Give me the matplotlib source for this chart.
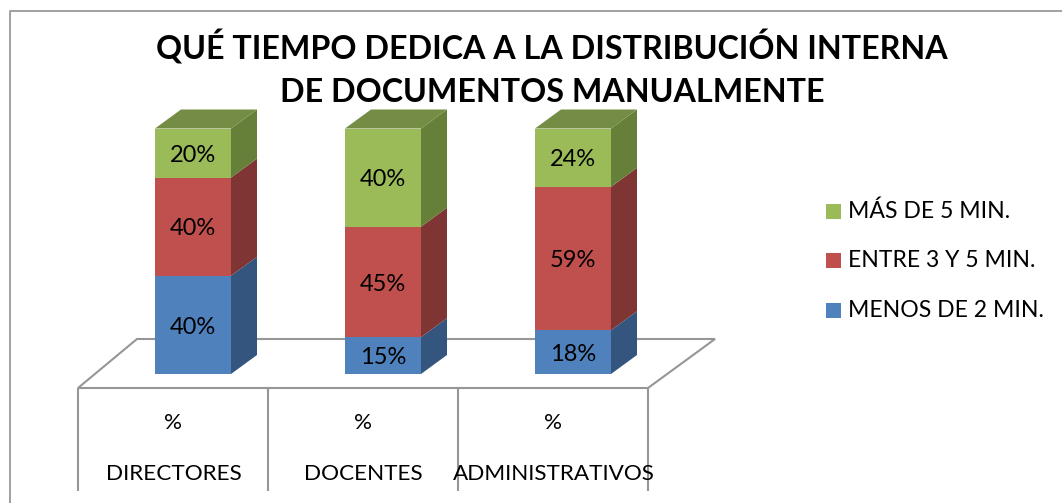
import matplotlib
matplotlib.use("Agg")
import matplotlib.pyplot as plt
from matplotlib.patches import Polygon, Rectangle

categories = ["DIRECTORES", "DOCENTES", "ADMINISTRATIVOS"]
sub_label = "%"
series_names = ["MENOS DE 2 MIN.", "ENTRE 3 Y 5 MIN.", "MÁS DE 5 MIN."]
menos_2 = [40, 15, 18]
entre_3_5 = [40, 45, 59]
mas_5 = [20, 40, 24]
title = "QUÉ TIEMPO DEDICA A LA DISTRIBUCIÓN INTERNA\nDE DOCUMENTOS MANUALMENTE"

front = ["#4F81BD", "#C0504D", "#9BBB59"]
side = ["#34557E", "#7F3533", "#66803A"]
top = ["#3F6797", "#994040", "#748C44"]
GRID = "#969696"

W, H = 1062, 503
plt.rcParams["font.family"] = ["Lato", "DejaVu Sans"]

fig = plt.figure(figsize=(W / 100, H / 100), dpi=100)
ax = fig.add_axes([0, 0, 1, 1])

# value axis: 0 at y=374 px, 100% at y=128.5 px; one category is 190 px wide from x=78
px_per_pct = 2.455
px_per_cat = 190.0
ax.set_xlim(-78 / px_per_cat, (W - 78) / px_per_cat)
ax.set_ylim(-(H - 374) / px_per_pct, 374 / px_per_pct)
ax.axis("off")

bar_w = 76 / px_per_cat
dx = 26 / px_per_cat
dy = 19 / px_per_pct


def fx(px):
    return (px - 78) / px_per_cat


def fy(py):
    return (374 - py) / px_per_pct


# floor
floor = [(78, 388), (137, 339), (715, 339), (648, 388)]
ax.add_patch(Polygon([(fx(a), fy(b)) for a, b in floor], closed=True, fc="white", ec=GRID, lw=1.5))
for i in range(len(categories) + 1):
    ax.plot([i, i], [fy(388), fy(491)], color=GRID, lw=1.5, solid_capstyle="butt")

for i, cat in enumerate(categories):
    left = i + fx(155)
    vals = [menos_2[i], entre_3_5[i], mas_5[i]]
    scale = 100.0 / sum(vals)
    bottom = 0.0
    for j, v in enumerate(vals):
        h = v * scale
        right = left + bar_w
        ax.add_patch(Rectangle((left, bottom), bar_w, h, fc=front[j], ec="none", zorder=3))
        ax.add_patch(Polygon([(right, bottom), (right + dx, bottom + dy), (right + dx, bottom + h + dy), (right, bottom + h)],
                             closed=True, fc=side[j], ec="none", zorder=3))
        ax.text(left + bar_w / 2, bottom + h / 2 - 0.9, f"{v}%", ha="center", va="center", fontsize=17, color="black", zorder=4)
        bottom += h
    ax.add_patch(Polygon([(left, 100), (left + dx, 100 + dy), (left + bar_w + dx, 100 + dy), (left + bar_w, 100)],
                         closed=True, fc=top[2], ec="none", zorder=3))
    ax.text(i + fx(173), fy(423), sub_label, ha="center", va="center", fontsize=16.2)
    ax.text(i + fx(173.5), fy(474.5), cat, ha="center", va="center", fontsize=16.2, zorder=5)

ax.text(fx(552), fy(68), title, ha="center", va="center", fontsize=23.2, fontweight="bold", linespacing=1.55)

# legend
for j, name in enumerate(series_names):
    y = [310, 260, 211][j]
    ax.add_patch(Rectangle((fx(826), fy(y + 7.5)), 15 / px_per_cat, 15 / px_per_pct, fc=front[j], ec="none"))
    ax.text(fx(848), fy(y + 0.5), name, ha="left", va="center", fontsize=16.6)

# outer frame, left and top sides
ax.plot([fx(9.5), fx(9.5), fx(1062)], [fy(503), fy(10.5), fy(10.5)], color="#A0A0A0", lw=1.4)

fig.savefig("out.png", dpi=100)
